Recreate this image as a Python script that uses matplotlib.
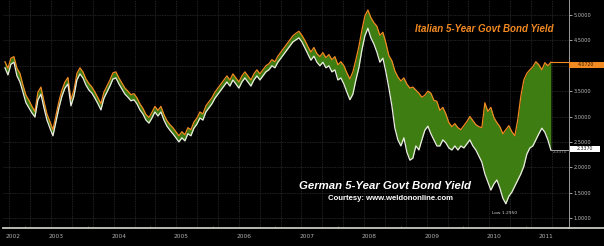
import numpy as np
import matplotlib
matplotlib.use("Agg")
import matplotlib.pyplot as plt
from matplotlib.patches import Rectangle
from matplotlib.lines import Line2D

# ---------------- data ----------------
# sample times, decimal years (roughly every 2.5 weeks, Sep 2002 -> May 2011)
dates = np.linspace(2002.68, 2011.40, 183)

german = [3.96, 3.82, 4.03, 4.07, 3.80, 3.68, 3.48, 3.27, 3.17, 3.07, 2.99, 3.33, 3.44, 3.17, 2.93,
          2.77, 2.62, 2.89, 3.17, 3.40, 3.56, 3.64, 3.21, 3.40, 3.72, 3.84, 3.76, 3.62, 3.52, 3.46,
          3.36, 3.25, 3.13, 3.36, 3.48, 3.60, 3.74, 3.76, 3.64, 3.54, 3.44, 3.38, 3.31, 3.33, 3.25,
          3.13, 3.05, 2.93, 2.87, 2.97, 3.09, 3.01, 3.09, 2.93, 2.81, 2.73, 2.66, 2.58, 2.50, 2.58,
          2.52, 2.66, 2.62, 2.77, 2.85, 2.97, 2.93, 3.09, 3.17, 3.25, 3.36, 3.44, 3.52, 3.60, 3.68,
          3.60, 3.72, 3.64, 3.56, 3.68, 3.76, 3.68, 3.60, 3.72, 3.80, 3.72, 3.80, 3.88, 3.92, 4.00,
          3.96, 4.07, 4.15, 4.23, 4.31, 4.39, 4.47, 4.51, 4.55, 4.47, 4.35, 4.23, 4.11, 4.19, 4.07,
          4.00, 4.07, 3.96, 4.00, 3.88, 3.92, 3.72, 3.76, 3.64, 3.48, 3.33, 3.44, 3.72, 3.96, 4.31,
          4.59, 4.74, 4.55, 4.43, 4.27, 4.07, 4.15, 3.88, 3.56, 3.21, 2.77, 2.54, 2.42, 2.58, 2.30,
          2.14, 2.18, 2.42, 2.34, 2.54, 2.73, 2.81, 2.66, 2.54, 2.42, 2.42, 2.54, 2.48, 2.38, 2.34,
          2.42, 2.34, 2.42, 2.38, 2.46, 2.54, 2.42, 2.34, 2.22, 2.10, 1.87, 1.71, 1.55, 1.67, 1.75,
          1.59, 1.39, 1.28, 1.43, 1.51, 1.63, 1.75, 1.87, 2.02, 2.26, 2.38, 2.42, 2.54, 2.66, 2.77,
          2.69, 2.54, 2.34]

italian = [4.08, 3.95, 4.15, 4.18, 3.95, 3.85, 3.62, 3.42, 3.32, 3.20, 3.10, 3.48, 3.58, 3.30, 3.05,
           2.90, 2.74, 3.02, 3.30, 3.52, 3.68, 3.77, 3.33, 3.52, 3.85, 3.96, 3.88, 3.74, 3.65, 3.58,
           3.48, 3.37, 3.25, 3.48, 3.60, 3.72, 3.86, 3.88, 3.76, 3.66, 3.56, 3.50, 3.43, 3.45, 3.37,
           3.25, 3.16, 3.04, 2.98, 3.08, 3.20, 3.12, 3.20, 3.04, 2.92, 2.84, 2.78, 2.70, 2.62, 2.70,
           2.64, 2.78, 2.74, 2.89, 2.97, 3.09, 3.05, 3.21, 3.29, 3.37, 3.48, 3.56, 3.64, 3.72, 3.80,
           3.72, 3.84, 3.76, 3.68, 3.80, 3.88, 3.80, 3.72, 3.84, 3.92, 3.84, 3.92, 4.00, 4.04, 4.12,
           4.08, 4.19, 4.27, 4.35, 4.43, 4.51, 4.59, 4.64, 4.68, 4.60, 4.50, 4.38, 4.27, 4.36, 4.24,
           4.18, 4.26, 4.16, 4.22, 4.12, 4.18, 4.02, 4.08, 4.00, 3.86, 3.74, 3.88, 4.12, 4.38, 4.70,
           4.98, 5.10, 4.95, 4.85, 4.78, 4.60, 4.66, 4.45, 4.20, 4.10, 3.90, 3.78, 3.70, 3.76, 3.64,
           3.56, 3.58, 3.52, 3.46, 3.38, 3.42, 3.50, 3.46, 3.32, 3.30, 3.12, 3.18, 3.05, 2.88, 2.80,
           2.86, 2.78, 2.74, 2.82, 2.90, 3.00, 2.92, 2.84, 2.80, 2.78, 3.27, 3.10, 3.18, 2.98, 2.88,
           2.80, 2.66, 2.74, 2.82, 2.70, 2.62, 2.95, 3.40, 3.72, 3.85, 3.92, 3.98, 4.08, 4.02, 3.92,
           4.06, 4.00, 4.07]

year_labels = ["2002", "2003", "2004", "2005", "2006", "2007", "2008", "2009", "2010", "2011"]
year_label_pos = [2002.81, 2003.5, 2004.5, 2005.5, 2006.5, 2007.5, 2008.5, 2009.5, 2010.5, 2011.32]
ytick_vals = [1.0, 1.5, 2.0, 2.5, 3.0, 3.5, 4.0, 4.5, 5.0]
last_italian_label = "4.0720"
last_german_label = "2.3370"
low_label = "Low 1.2950"
title_it = "Italian 5-Year Govt Bond Yield"
title_de = "German 5-Year Govt Bond Yield"
courtesy = "Courtesy: www.weldononline.com"

german = np.array(german)
italian = np.array(italian)

# ---------------- figure ----------------
W, H = 604, 246
fig = plt.figure(figsize=(W / 100, H / 100), dpi=100, facecolor="black")

def fx(x):
    return x / W

def fy(y):
    return 1 - y / H

ax = fig.add_axes([fx(3), fy(228), (569 - 3) / W, 228 / H])
ax.set_facecolor("black")
ax.set_xlim(2002.649, 2011.690)
ax.set_ylim(0.803, 5.296)

# grid
for v in [1.0, 1.5, 2.0, 2.5, 3.0, 3.5, 4.0, 4.5, 5.0]:
    ax.axhline(v, color="#2e2e2e", lw=0.6, ls=(0, (1, 1)), zorder=0)
for yr in range(2002, 2012):
    for k in range(3):
        g = yr + 1 / 12 + k / 3
        if 2002.65 < g < 2011.69:
            ax.axvline(g, color="#2e2e2e", lw=0.6, ls=(0, (1, 1)), zorder=0)

green = "#3d7d12"
orange = "#f28a22"
white = "#ecece4"

ax.fill_between(dates, german, italian, where=italian >= german, interpolate=True,
                color=green, lw=0, zorder=2)
ax.plot(dates, italian, color=orange, lw=0.9, zorder=3)
ax.plot(dates, german, color=white, lw=0.9, zorder=4)

# last price lines
ax.plot([dates[-1], 2011.69], [italian[-1], italian[-1]], color=orange, lw=0.8, zorder=3)
ax.plot([dates[-1], 2011.69], [german[-1], german[-1]], color="#bbbbbb", lw=0.6, zorder=3)

# spines
for s in ["left", "top"]:
    ax.spines[s].set_visible(False)
ax.spines["bottom"].set_color("#c8c8c0")
ax.spines["bottom"].set_linewidth(1.3)
ax.spines["right"].set_color("#9a9a9a")
ax.spines["right"].set_linewidth(0.7)
# bottom rule continues under the price scale
fig.lines.append(Line2D([fx(569), fx(604)], [fy(228), fy(228)], transform=fig.transFigure,
                        color="#c8c8c0", lw=1.3))

ax.yaxis.tick_right()
ax.set_yticks(ytick_vals)
ax.set_yticklabels(["%.4f" % v for v in ytick_vals])
ax.tick_params(axis="y", colors="#bdbdbd", labelsize=3.6, length=2, width=0.6, pad=1.5,
               direction="out")
for lab, v in zip(ax.get_yticklabels(), ytick_vals):
    if v == 4.0:
        lab.set_visible(False)

ax.set_xticks(list(range(2003, 2012)))
ax.set_xticklabels([])
ax.tick_params(axis="x", colors="#777777", length=1.5, width=0.5, direction="in")
for lab, p in zip(year_labels, year_label_pos):
    ax.text(p, -0.028, lab, transform=ax.get_xaxis_transform(), ha="center", va="top",
            fontsize=4.2, color="#b0b0b0")

# price boxes on right
fig.patches.append(Rectangle((fx(569), fy(68)), (604 - 569) / W, 6 / H, transform=fig.transFigure,
                             facecolor=orange, edgecolor="none", zorder=5))
fig.text(fx(586), fy(65), last_italian_label, ha="center", va="center", fontsize=3.4,
         color="#3a1a00", zorder=6)
fig.patches.append(Rectangle((fx(570), fy(152)), (600 - 570) / W, 6 / H, transform=fig.transFigure,
                             facecolor="white", edgecolor="none", zorder=5))
fig.text(fx(585), fy(149), last_german_label, ha="center", va="center", fontsize=3.4,
         color="#222222", zorder=6)
fig.text(fx(560), fy(152), last_german_label, ha="center", va="center", fontsize=3.0,
         color="#9a9a9a")

# titles
fig.text(fx(484), fy(29), title_it, ha="center", va="center", fontsize=7.0,
         fontweight="bold", fontstyle="italic", color=orange, family="Liberation Sans")
fig.text(fx(385), fy(186), title_de, ha="center", va="center", fontsize=8.2,
         fontweight="bold", fontstyle="italic", color="white", family="Liberation Sans")
fig.text(fx(390), fy(199), courtesy, ha="center", va="center", fontsize=5.6,
         fontweight="bold", color="white", family="Liberation Sans")
fig.text(fx(505), fy(213), low_label, ha="center", va="center", fontsize=3.2, color="#d0d0d0")

fig.savefig("out.png", dpi=100, facecolor="black")
